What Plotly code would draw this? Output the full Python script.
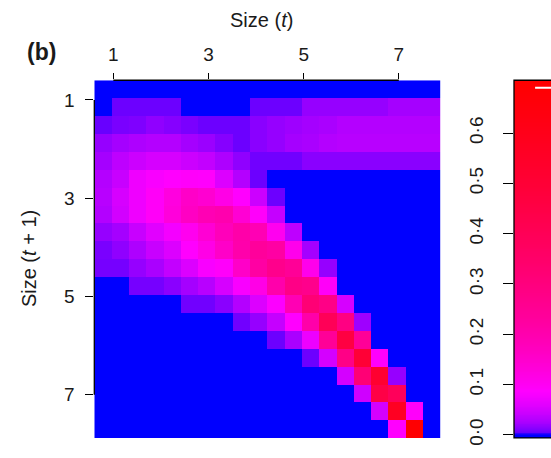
import numpy as np
import plotly.graph_objects as go

# Size mesh (midpoints of 20 size classes) and the plotted size range
size_mesh = [0.782, 1.146, 1.510, 1.874, 2.238, 2.602, 2.966, 3.330, 3.694, 4.058,
             4.422, 4.786, 5.150, 5.514, 5.878, 6.242, 6.606, 6.970, 7.334, 7.698]
size_lo, size_hi = 0.6, 7.88
size_ticks = [1, 3, 5, 7]

# Colour-bar scale
z_max = 0.70
bar_ticks = [0.0, 0.1, 0.2, 0.3, 0.4, 0.5, 0.6]
bar_labels = ["0·0", "0·1", "0·2", "0·3", "0·4", "0·5", "0·6"]

# Transition kernel: rows = size at t+1 (small to large), columns = size at t
kernel = [
    [0]*20,
    [0, 0.007, 0.007, 0.007, 0.007, 0, 0, 0, 0, 0.007, 0.007, 0.007,
     0.018, 0.018, 0.018, 0.018, 0.018, 0.024, 0.024, 0.024],
    [0.006, 0.010, 0.011, 0.016, 0.013, 0.010, 0.007, 0.007, 0.007, 0.014,
     0.018, 0.021, 0.024, 0.026, 0.031, 0.031, 0.031, 0.031, 0.031, 0.031],
    [0.018, 0.024, 0.028, 0.031, 0.031, 0.024, 0.020, 0.013, 0.007, 0.014,
     0.018, 0.024, 0.026, 0.031, 0.033, 0.033, 0.033, 0.033, 0.033, 0.033],
    [0.024, 0.036, 0.045, 0.052, 0.052, 0.045, 0.039, 0.028, 0.016, 0.008,
     0.008, 0.008, 0.014, 0.014, 0.014, 0.014, 0.014, 0.014, 0.014, 0.014],
    [0.031, 0.042, 0.072, 0.082, 0.088, 0.092, 0.090, 0.056, 0.031, 0.007,
     0, 0, 0, 0, 0, 0, 0, 0, 0, 0],
    [0.033, 0.052, 0.072, 0.095, 0.125, 0.157, 0.145, 0.116, 0.088, 0.045,
     0.007, 0, 0, 0, 0, 0, 0, 0, 0, 0],
    [0.030, 0.049, 0.072, 0.095, 0.130, 0.165, 0.190, 0.200, 0.140, 0.092,
     0.040, 0, 0, 0, 0, 0, 0, 0, 0, 0],
    [0.018, 0.024, 0.042, 0.060, 0.077, 0.105, 0.140, 0.180, 0.210, 0.190,
     0.105, 0.036, 0, 0, 0, 0, 0, 0, 0, 0],
    [0.010, 0.016, 0.028, 0.042, 0.056, 0.088, 0.116, 0.157, 0.207, 0.235,
     0.220, 0.110, 0.024, 0, 0, 0, 0, 0, 0, 0],
    [0.009, 0.009, 0.018, 0.026, 0.039, 0.056, 0.082, 0.092, 0.157, 0.220,
     0.267, 0.245, 0.110, 0.018, 0, 0, 0, 0, 0, 0],
    [0, 0, 0.009, 0.009, 0.014, 0.024, 0.033, 0.052, 0.082, 0.116,
     0.207, 0.280, 0.267, 0.095, 0, 0, 0, 0, 0, 0],
    [0, 0, 0, 0, 0, 0.008, 0.008, 0.014, 0.031, 0.056,
     0.085, 0.190, 0.320, 0.280, 0.052, 0, 0, 0, 0, 0],
    [0, 0, 0, 0, 0, 0, 0, 0, 0.008, 0.018,
     0.040, 0.088, 0.210, 0.400, 0.290, 0.021, 0, 0, 0, 0],
    [0, 0, 0, 0, 0, 0, 0, 0, 0, 0,
     0.007, 0.026, 0.070, 0.245, 0.460, 0.245, 0, 0, 0, 0],
    [0, 0, 0, 0, 0, 0, 0, 0, 0, 0,
     0, 0, 0.007, 0.050, 0.280, 0.500, 0.090, 0, 0, 0],
    [0, 0, 0, 0, 0, 0, 0, 0, 0, 0,
     0, 0, 0, 0, 0.050, 0.320, 0.520, 0.018, 0, 0],
    [0, 0, 0, 0, 0, 0, 0, 0, 0, 0,
     0, 0, 0, 0, 0, 0.047, 0.450, 0.390, 0, 0],
    [0, 0, 0, 0, 0, 0, 0, 0, 0, 0,
     0, 0, 0, 0, 0, 0, 0.050, 0.570, 0.092, 0],
    [0, 0, 0, 0, 0, 0, 0, 0, 0, 0,
     0, 0, 0, 0, 0, 0, 0, 0.088, 0.690, 0],
]


def ramp(t):
    """blue -> magenta -> red"""
    if t < 0.5:
        return f"rgb({round(510 * t)},0,255)"
    return f"rgb(255,0,{round(255 * (2 - 2 * t))})"


# colours spread on a cube-root scale so small probabilities stay visible
colorscale = [[p, ramp(p ** (1 / 3))] for p in np.linspace(0, 1, 121)]

W, H = 551, 458
FONT = "Liberation Sans, Arial, sans-serif"
TXT = "#1a1a1a"
TICK_SIZE = 19
TITLE_SIZE = 20
plot_x = [94.3 / W, 440.7 / W]
plot_y = [1 - 445.7 / H, 1 - 81.7 / H]

fig = go.Figure()

fig.add_trace(go.Heatmap(
    x=size_mesh, y=size_mesh, z=kernel,
    colorscale=colorscale, zmin=0, zmax=z_max, showscale=False,
    xaxis="x", yaxis="y", hoverinfo="x+y+z",
))

# colour bar drawn as its own strip so its axis can sit on the left
bar_lo, bar_hi = -0.006, 0.705
levels = np.linspace(bar_lo, bar_hi, 400)
fig.add_trace(go.Heatmap(
    x=[0.5], y=levels, z=[[v] for v in levels],
    colorscale=colorscale, zmin=0, zmax=z_max, showscale=False,
    xaxis="x2", yaxis="y2", hoverinfo="skip",
))

axis_common = dict(
    ticks="outside", tickwidth=1.3, tickcolor="black",
    showline=False, showgrid=False, zeroline=False,
    tickfont=dict(family=FONT, size=TICK_SIZE, color=TXT),
)

fig.update_layout(
    width=W, height=H,
    margin=dict(l=0, r=0, t=0, b=0),
    paper_bgcolor="white", plot_bgcolor="white",
    showlegend=False,
    xaxis=dict(domain=plot_x, range=[size_lo, size_hi], side="top",
               tickvals=size_ticks, ticklen=6, ticklabelstandoff=5,
               anchor="y", **axis_common),
    yaxis=dict(domain=plot_y, range=[size_hi, size_lo],
               tickvals=size_ticks, ticklen=8, ticklabelstandoff=7,
               anchor="x", **axis_common),
    xaxis2=dict(domain=[514 / W, 1.0], range=[0, 1], visible=False,
                anchor="y2"),
    yaxis2=dict(domain=plot_y, range=[bar_lo, bar_hi], side="left",
                tickvals=bar_ticks, ticktext=bar_labels, tickangle=-90,
                ticklen=10, ticklabelstandoff=12, anchor="x2", **axis_common),
)

line_style = dict(color="black", width=1.3)
peak = max(map(max, kernel))
shapes = [
    # R-style axis lines that run from the first to the last tick
    dict(type="line", xref="x", yref="y domain",
         x0=size_ticks[0], x1=size_ticks[-1], y0=1, y1=1, line=line_style),
    dict(type="line", xref="x domain", yref="y",
         x0=0, x1=0, y0=size_ticks[0], y1=size_ticks[-1], line=line_style),
    # colour-bar frame
    dict(type="rect", xref="x2 domain", yref="y2 domain",
         x0=0, x1=1.2, y0=0, y1=1, line=line_style),
    # marker at the largest kernel value
    dict(type="line", xref="x2 domain", yref="y2",
         x0=0.57, x1=1.0, y0=peak, y1=peak,
         line=dict(color="white", width=2)),
]
fig.update_layout(shapes=shapes)

fig.add_annotation(text="<b>(b)</b>", xref="paper", yref="paper",
                   x=41 / W, y=1 - 53 / H, xanchor="center", yanchor="middle",
                   showarrow=False, font=dict(family=FONT, size=23, color=TXT))
fig.add_annotation(text="Size (<i>t</i>)", xref="paper", yref="paper",
                   x=261 / W, y=1 - 20 / H,
                   xanchor="center", yanchor="middle", showarrow=False,
                   font=dict(family=FONT, size=TITLE_SIZE, color=TXT))
fig.add_annotation(text="Size (<i>t</i> + 1)", xref="paper", yref="paper",
                   x=29 / W, y=(plot_y[0] + plot_y[1]) / 2, textangle=-90,
                   xanchor="center", yanchor="middle", showarrow=False,
                   font=dict(family=FONT, size=TITLE_SIZE, color=TXT))

fig.write_html("out.html")
